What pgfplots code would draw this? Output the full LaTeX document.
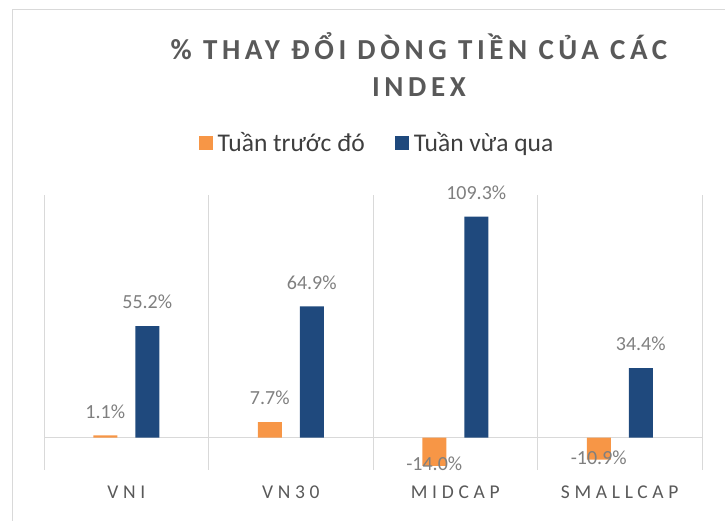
\documentclass[border=0pt]{standalone}
\usepackage{fontspec}
\setmainfont{Carlito}
\newfontfamily\titlefont[LetterSpace=16]{Carlito}
\newfontfamily\catfont[LetterSpace=24]{Carlito}
\usepackage{pgfplots}
\pgfplotsset{compat=1.18}
\definecolor{prevweek}{HTML}{F79646}
\definecolor{lastweek}{HTML}{1F497D}
\definecolor{txtgray}{HTML}{595959}
\definecolor{lblgray}{HTML}{7F7F7F}
\definecolor{gridgray}{HTML}{D9D9D9}
\begin{document}
\begin{tikzpicture}[x=1pt,y=1pt]
\useasboundingbox (0,0) rectangle (725,521);
% chart frame (cropped)
\draw[gridgray, line width=1pt] (12,0) -- (12,511) -- (725,511);
% title
\node[anchor=base, text=txtgray, font=\titlefont\bfseries\fontsize{29}{32}\selectfont] at (419,461) {\% THAY ĐỔI DÒNG TIỀN CỦA CÁC};
\node[anchor=base, text=txtgray, font=\titlefont\bfseries\fontsize{29}{32}\selectfont] at (419,424) {INDEX};
\begin{axis}[
    scale only axis,
    width=658pt, height=275pt,
    at={(44pt,51pt)}, anchor=south west,
    ybar=18pt, bar width=24pt,
    xmin=-0.5, xmax=3.5,
    ymin=-16, ymax=120,
    axis line style={draw=none},
    ytick=\empty,
    xtick={0,1,2,3},
    xticklabels={VNI, VN30, MIDCAP, SMALLCAP},
    major tick length=0pt,
    minor xtick={-0.5,0.5,1.5,2.5,3.5},
    xminorgrids=true,
    minor grid style={gridgray, line width=1pt},
    minor tick length=0pt,
    xticklabel style={anchor=center, yshift=-22pt, text=txtgray, font=\catfont\fontsize{19.5}{22}\selectfont},
    point meta=y,
    /pgf/number format/assume math mode=true,
    nodes near coords={\pgfmathprintnumber[fixed, fixed zerofill, precision=1]{\pgfplotspointmeta}\%},
    visualization depends on={y \as \rawy},
    every node near coord/.append style={anchor=center, text=lblgray,
        font=\fontsize{20}{22}\selectfont, yshift={\rawy>0 ? 24 : 2}},
    legend style={at={(0.506,1.189)}, anchor=center, draw=none, fill=none,
        legend columns=2, font=\fontsize{25.5}{28}\selectfont, text=txtgray!70!black,
        /tikz/every odd column/.append style={column sep=3pt},
        /tikz/every even column/.append style={column sep=28pt}},
    legend image code/.code={\fill[#1, draw=none] (0pt,-7pt) rectangle (14pt,7pt);},
    clip=false,
]
\draw[gridgray, line width=1pt] (axis cs:-0.5,0) -- (axis cs:3.5,0);
\addplot[fill=prevweek, draw=none] coordinates {(0,1.1) (1,7.7) (2,-14.0) (3,-10.9)};
\addplot[fill=lastweek, draw=none] coordinates {(0,55.2) (1,64.9) (2,109.3) (3,34.4)};
\legend{Tuần trước đó, Tuần vừa qua}
\end{axis}
\end{tikzpicture}
\end{document}
